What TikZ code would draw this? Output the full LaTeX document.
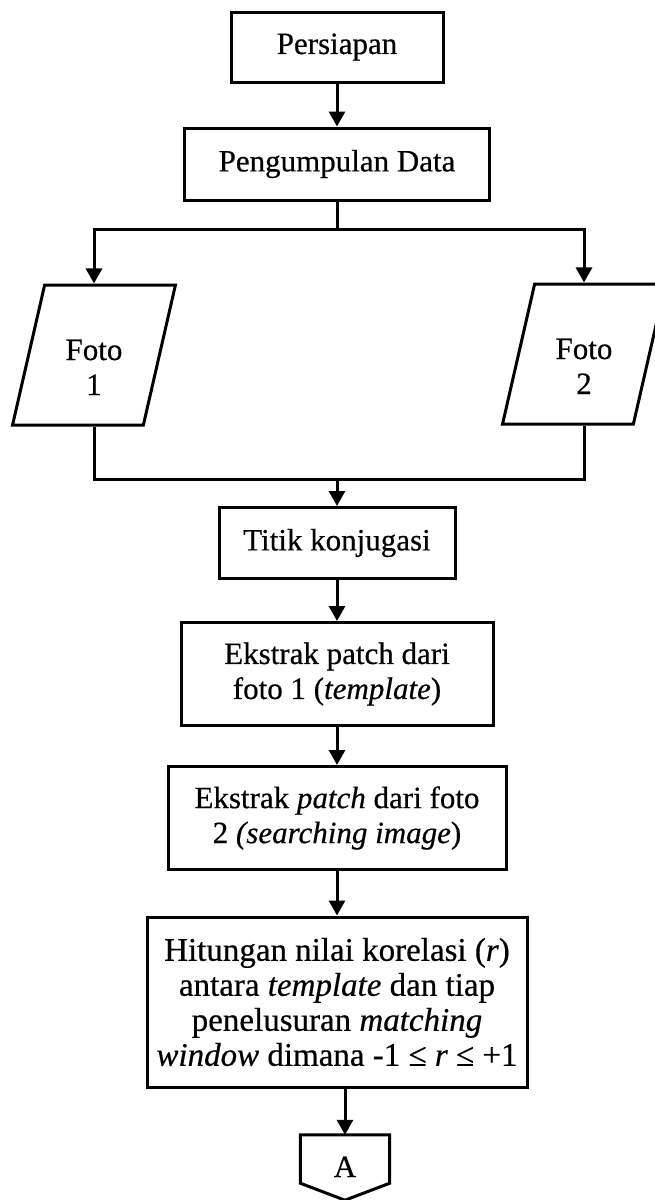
\documentclass[tikz,border=0pt]{standalone}
\usepackage{fontspec}
\setmainfont{Liberation Serif}[UprightFeatures={FakeBold=0.5},ItalicFeatures={FakeBold=0.5}]
\usetikzlibrary{arrows.meta,shapes.geometric}

\tikzset{
  proses/.style={draw, line width=3pt, align=center, inner sep=0pt},
  data/.style={draw, line width=3pt, trapezium, trapezium left angle=77,
    trapezium right angle=103, trapezium stretches=true,
    minimum width=164pt, minimum height=140pt, align=center, inner sep=0pt},
  garis/.style={line width=3pt},
  panah/.style={line width=3pt, -{Triangle[length=15pt,width=16pt]}},
}

\begin{document}
\begin{tikzpicture}[x=1pt, y=-1pt, font=\fontsize{31}{35}\selectfont]
\useasboundingbox (0,0) rectangle (654,1200);

\node[proses, minimum width=212pt, minimum height=70pt] (siap) at (337,47) {Persiapan};
\node[proses, minimum width=305pt, minimum height=72pt] (kumpul) at (337,164) {Pengumpulan Data};

\node[data] (foto1) at (94,355) {\rule{0pt}{45pt}Foto\\1};
\node[data] (foto2) at (584,354) {\rule{0pt}{45pt}Foto\\2};

\node[proses, minimum width=236pt, minimum height=71pt] (titik) at (337,543) {Titik konjugasi};
\node[proses, minimum width=312pt, minimum height=103pt] (ekstrak1) at (337,674)
  {Ekstrak patch dari\\foto 1 (\textit{template})};
\node[proses, minimum width=338pt, minimum height=103pt] (ekstrak2) at (337,818)
  {Ekstrak \textit{patch} dari foto\\2 \textit{(searching image})};
\node[proses, minimum width=380pt, minimum height=170pt, font=\fontsize{33}{35}\selectfont] (hitung) at (337,1002)
  {Hitungan nilai korelasi (\textit{r})\\antara \textit{template} dan tiap\\penelusuran \textit{matching}\\\textit{window} dimana -1 ≤ \textit{r} ≤ +1};

\node[inner sep=0pt, minimum width=89pt, minimum height=48pt, text height=36pt, text depth=0pt] (konA) at (345,1159) {A};

\coordinate (cabang) at (337,229);
\coordinate (gabung) at (337,479);

\draw[panah] (siap.south) -- (kumpul.north);
\draw[garis] (kumpul.south) -- (cabang);
\draw[panah] (cabang) -| (foto1.north);
\draw[panah] (cabang) -| (foto2.north);
\draw[garis] (foto1.south) |- (gabung);
\draw[garis] (foto2.south) |- (gabung);
\draw[panah] (gabung) -- (titik.north);
\draw[panah] (titik.south) -- (ekstrak1.north);
\draw[panah] (ekstrak1.south) -- (ekstrak2.north);
\draw[panah] (ekstrak2.south) -- (hitung.north);
\draw[panah] (konA.north |- hitung.south) -- (konA.north);

% konektor halaman
\draw[garis] (konA.north west) -- (konA.north east) -- (konA.south east)
  -- ([yshift=-17pt]konA.south) -- (konA.south west) -- cycle;
\end{tikzpicture}
\end{document}
